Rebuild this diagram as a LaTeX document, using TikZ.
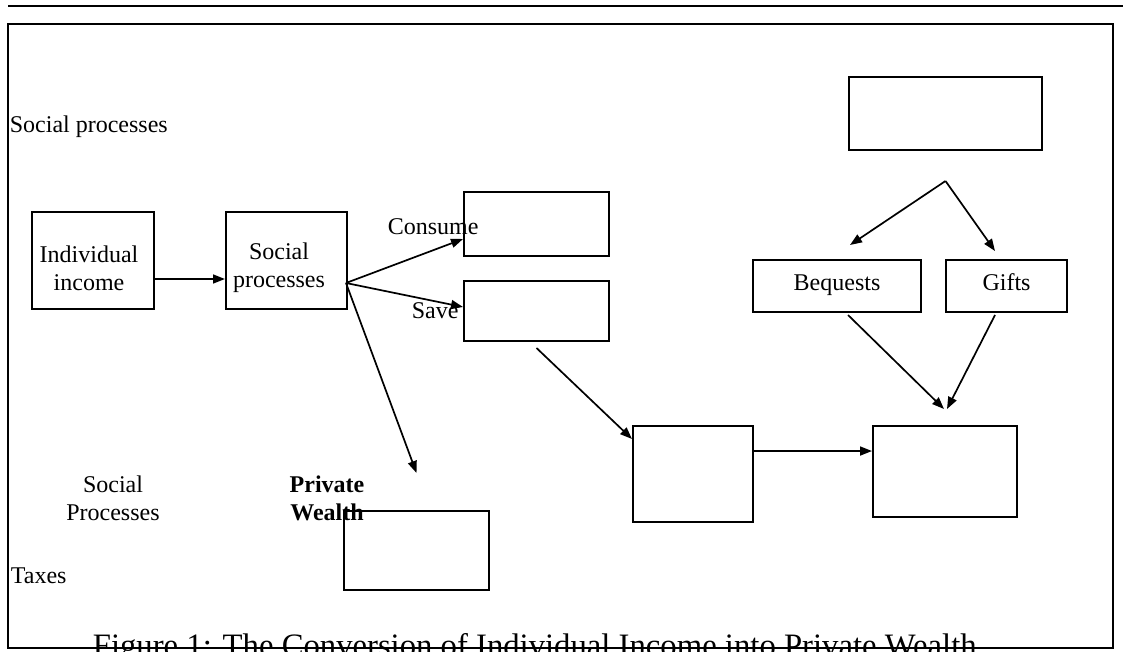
\documentclass[tikz,border=0pt]{standalone}
\usepackage{fontspec}
\setmainfont{Liberation Serif}
\usetikzlibrary{arrows.meta,positioning}
\def \fs {\fontsize{24}{28}\selectfont}

\begin{document}
\begin{tikzpicture}[x=1pt,y=-1pt,line width=1.7pt,
    >={Triangle[length=12pt,width=9pt]},
    box/.style={draw,line width=2pt,inner sep=0pt},
    txt/.style={inner sep=0pt,align=center,font=\fs},
    boxtxt/.style={font=\fs,text height=15pt,text depth=6pt}]
  \useasboundingbox (0,0) rectangle (1123,652);
  \draw[line width=2pt] (8,6) -- (1123,6);
  \draw[line width=2.5pt] (8,24) rectangle (1113,648);

  \node[box,minimum width=122pt,minimum height=97pt] (income) at (93,260.5) {};
  \node[box,minimum width=121pt,minimum height=97pt,right=70pt of income] (social) {};
  \node[box,minimum width=145pt,minimum height=64pt] (consume) at (536.5,224) {};
  \node[box,minimum width=145pt,minimum height=60pt,below=23pt of consume] (save) {};
  \node[box,minimum width=193pt,minimum height=73pt] (source) at (945.5,113.5) {};
  \node[box,boxtxt,minimum width=168pt,minimum height=52pt] (bequests) at (837,286) {Bequests};
  \node[box,boxtxt,minimum width=121pt,minimum height=52pt,right=23pt of bequests] (gifts) {Gifts};
  \node[box,minimum width=120pt,minimum height=96pt] (stock) at (693,474) {};
  \node[box,minimum width=144pt,minimum height=91pt] (estate) at (945,471.5) {};
  \node[box,minimum width=145pt,minimum height=79pt] (wealth) at (416.5,550.5) {};

  \node[txt] (incometxt) at (89,268) {Individual\\income};
  \node[txt] (socialtxt) at (279,268) {Social\\processes};
  \node[txt,anchor=base west] (toplbl) at (9,133) {Social processes};
  \node[txt,anchor=base west] (consumelbl) at (387,235) {Consume};
  \node[txt,anchor=base west] (savelbl) at (411,318) {Save};
  \node[txt] (procslbl) at (113,498) {Social\\Processes};
  \node[txt,font=\fs\bfseries] (privlbl) at (327,498) {Private\\Wealth};
  \node[txt,anchor=base west] (taxeslbl) at (10,583) {Taxes};
  \node[inner sep=0pt,anchor=base west,font=\fontsize{32.7}{36}\selectfont] (caption) at (92,656.5)
    {Figure 1: The Conversion of Individual Income into Private Wealth};

  \coordinate (fork) at (346,283);
  \coordinate (split) at ([yshift=-30pt]source.south);
  \draw[->] ([yshift=-18.5pt]income.east) -- ([yshift=-18.5pt]social.west);
  \draw[->] (fork) -- ([yshift=-15pt]consume.west);
  \draw[->] (fork) -- ([yshift=4pt]save.west);
  \draw[->] (fork) -- ([yshift=37pt]wealth.north);
  \draw[->] ([yshift=-6pt]save.south) -- ([yshift=-14pt]stock.north west);
  \draw[->] ([yshift=20.5pt]stock.east |- estate.west) -- ([yshift=20.5pt]estate.west);
  \draw[->] (split) -- ([shift={(13pt,14pt)}]bequests.north);
  \draw[->] (split) -- ([shift={(-11.5pt,8pt)}]gifts.north);
  \draw[->] ([shift={(11pt,-2pt)}]bequests.south) -- ([shift={(-1pt,16pt)}]estate.north);
  \draw[->] ([shift={(-11.5pt,-2pt)}]gifts.south) -- ([shift={(2pt,16pt)}]estate.north);
\end{tikzpicture}
\end{document}
